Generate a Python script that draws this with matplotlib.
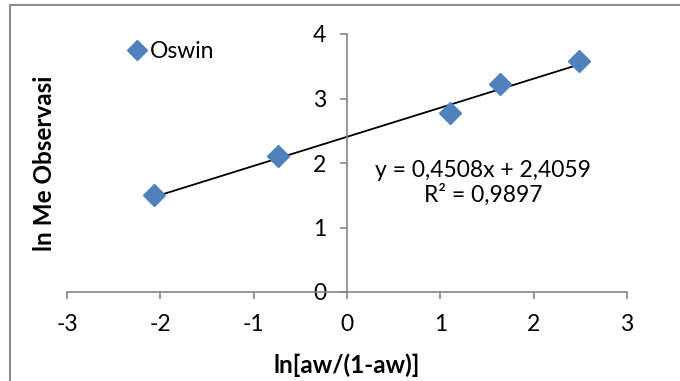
import matplotlib.pyplot as plt
import numpy as np
from matplotlib.lines import Line2D

# data
x_vals = [-2.07, -0.74, 1.10, 1.64, 2.49]
y_vals = [1.50, 2.11, 2.77, 3.22, 3.58]
slope = 0.4508
intercept = 2.4059
eq_text = "y = 0,4508x + 2,4059"
r2_text = "R² = 0,9897"
series_name = "Oswin"
x_ticks = [-3, -2, -1, 0, 1, 2, 3]
y_ticks = [0, 1, 2, 3, 4]

plt.rcParams['font.family'] = ['Lato', 'DejaVu Sans']

fig = plt.figure(figsize=(6.8, 3.81), dpi=100)
ax = fig.add_axes([67 / 680, 1 - 292 / 381, 560 / 680, 258 / 381])

axis_col = '#868686'
blue = '#4F81BD'
fs = 16.5

# trendline over the data range
xl = np.array([min(x_vals), max(x_vals)])
ax.plot(xl, slope * xl + intercept, color='black', lw=1.3, zorder=2)
ax.plot(x_vals, y_vals, 'D', color=blue, ms=11, mec=blue, zorder=3)

ax.set_xlim(-3, 3)
ax.set_ylim(0, 4)
ax.set_xticks(x_ticks)
ax.set_yticks(y_ticks)
ax.set_xticklabels([str(t) for t in x_ticks])
ax.set_yticklabels([str(t) for t in y_ticks])

ax.spines['left'].set_position(('data', 0))
ax.spines['bottom'].set_position(('data', 0))
ax.spines['right'].set_visible(False)
ax.spines['top'].set_visible(False)
for s in ['left', 'bottom']:
    ax.spines[s].set_color(axis_col)
    ax.spines[s].set_linewidth(1.2)
ax.tick_params(axis='both', colors=axis_col, labelcolor='black', length=5,
               width=1.2, direction='out', labelsize=fs)
ax.tick_params(axis='x', pad=11)
ax.tick_params(axis='y', pad=10)
ax.patch.set_alpha(0)

ax.text(1.46, 1.89, eq_text, ha='center', va='center', fontsize=fs)
ax.text(1.46, 1.50, r2_text, ha='center', va='center', fontsize=fs)

# axis titles placed like the Excel chart
fig.text(347 / 680, 1 - 365 / 381, "ln[aw/(1-aw)]", ha='center', va='center',
         fontsize=17.5, fontweight='bold')
fig.text(45 / 680, 1 - 163 / 381, "ln Me Observasi", ha='center', va='center',
         rotation=90, fontsize=17.5, fontweight='bold')

handle = Line2D([], [], marker='D', ls='none', color=blue, ms=10)
fig.legend([handle], [series_name], loc='center left',
           bbox_to_anchor=(119 / 680, 1 - 52 / 381), frameon=False,
           fontsize=fs, handlelength=0.6, handletextpad=0.25, borderpad=0)

# outer chart frame (top and left edges visible in the crop)
fig.add_artist(Line2D([9.5 / 680, 9.5 / 680], [0, 1 - 4.5 / 381],
                      transform=fig.transFigure, color='#8c8c8c', lw=1.5))
fig.add_artist(Line2D([9.5 / 680, 1], [1 - 4.5 / 381, 1 - 4.5 / 381],
                      transform=fig.transFigure, color='#8c8c8c', lw=1.5))

fig.savefig('out.png', dpi=100)
